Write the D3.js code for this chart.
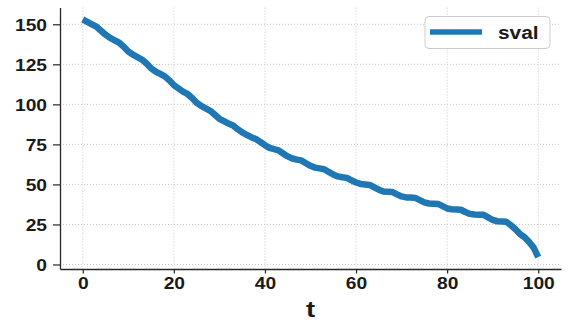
<!DOCTYPE html>
<html>
<head>
<meta charset="utf-8">
<script src="https://cdn.jsdelivr.net/npm/d3@7"></script>
<style>
  body { margin: 0; background: #fff; }
  text { font-family: "Liberation Sans", Arial, sans-serif; font-weight: bold; fill: #1a1a1a; }
</style>
</head>
<body>
<div id="chart"></div>
<script>
// values
var tVals = d3.range(0, 101);
var svalVals = [153, 151.5, 150, 148.5, 146, 143.5, 141.5, 140, 138.5, 136,
  133, 131, 129.5, 128, 125.5, 122.5, 120.5, 119, 117.5, 115,
  112, 110, 108, 106.5, 104, 101, 99, 97.5, 96, 93.5,
  91, 89.5, 88, 86.8, 84.5, 82.5, 81, 79.5, 78.3, 76.5,
  74.5, 72.8, 72, 71.3, 69.3, 67.5, 66.2, 65.5, 65, 63.2,
  61.6, 60.5, 60, 59.5, 57.8, 56.2, 55, 54.5, 54.1, 52.6,
  51.2, 50.3, 50, 49.7, 48.2, 46.7, 45.6, 45.4, 45.2, 43.8,
  42.5, 41.9, 41.8, 41.6, 40.2, 38.8, 38.1, 38, 37.8, 36.4,
  35, 34.5, 34.4, 34.2, 32.8, 31.6, 31.2, 31.1, 31, 29.4,
  27.8, 27, 26.9, 26.7, 24.5, 22, 19, 17, 14, 10.5,
  4.6];
var xTicks = [0, 20, 40, 60, 80, 100];
var yTicks = [0, 25, 50, 75, 100, 125, 150];
var seriesName = "sval";
var xTitle = "t";

var data = tVals.map(function(t, i) { return {t: t, v: svalVals[i]}; });

var svgWidth = 571;
var svgHeight = 331;

var svg = d3.select("#chart")
  .append("svg")
  .attr("width", svgWidth)
  .attr("height", svgHeight);

// matplotlib style 5% margins on both axes
var xLo = -5, xHi = 105;
var vMin = d3.min(svalVals), vMax = d3.max(svalVals);
var pad = (vMax - vMin) * 0.05;

var x = d3.scaleLinear().domain([xLo, xHi]).range([60, 561]);
var y = d3.scaleLinear().domain([vMin - pad, vMax + pad]).range([269, 7.6]);

// stretch text horizontally like the reference picture
function widen(sel, k) {
  sel.each(function() {
    var w = this.getComputedTextLength();
    d3.select(this).attr("textLength", w * k).attr("lengthAdjust", "spacingAndGlyphs");
  });
}

// grid
svg.append("g").selectAll("line")
  .data(xTicks)
  .enter()
  .append("line")
  .attr("x1", d => x(d)).attr("x2", d => x(d))
  .attr("y1", y.range()[1]).attr("y2", y.range()[0])
  .attr("stroke", "#c8c8c8").attr("stroke-width", 1)
  .attr("stroke-dasharray", "1,2");

svg.append("g").selectAll("line")
  .data(yTicks)
  .enter()
  .append("line")
  .attr("x1", x.range()[0]).attr("x2", x.range()[1])
  .attr("y1", d => y(d)).attr("y2", d => y(d))
  .attr("stroke", "#c8c8c8").attr("stroke-width", 1)
  .attr("stroke-dasharray", "1,2");

// axes (left and bottom spines only)
var bottomAxis = d3.axisBottom(x).tickValues(xTicks).tickSize(4.5).tickPadding(4).tickSizeOuter(0);
var leftAxis = d3.axisLeft(y).tickValues(yTicks).tickSize(7).tickPadding(6).tickSizeOuter(0);

var gx = svg.append("g")
  .attr("transform", "translate(0," + y.range()[0] + ")")
  .call(bottomAxis);
var gy = svg.append("g")
  .attr("transform", "translate(" + x.range()[0] + ",0)")
  .call(leftAxis);

[gx, gy].forEach(function(g) {
  g.select(".domain").attr("stroke", "#262626").attr("stroke-width", 1.3);
  g.selectAll(".tick line").attr("stroke", "#262626").attr("stroke-width", 1.2);
  g.selectAll(".tick text")
    .attr("font-size", "16px")
    .attr("font-family", "Liberation Sans, Arial, sans-serif")
    .attr("font-weight", "bold")
    .attr("fill", "#1a1a1a");
});
gy.selectAll(".tick text").attr("dy", "0.36em");
widen(gx.selectAll(".tick text"), 1.2);
widen(gy.selectAll(".tick text"), 1.2);

// axis title
svg.append("text")
  .attr("x", (x.range()[0] + x.range()[1]) / 2)
  .attr("y", 316.5)
  .attr("text-anchor", "middle")
  .attr("font-size", "22px")
  .text(xTitle)
  .call(widen, 1.25);

// the line
var line = d3.line()
  .x(d => x(d.t))
  .y(d => y(d.v));

svg.append("path")
  .datum(data)
  .attr("fill", "none")
  .attr("stroke", "#1f77b4")
  .attr("stroke-width", 6.5)
  .attr("stroke-linejoin", "round")
  .attr("d", line);

// legend
var legend = svg.append("g");
legend.append("rect")
  .attr("x", 425).attr("y", 16.5)
  .attr("width", 125).attr("height", 32)
  .attr("rx", 4)
  .attr("fill", "#fff").attr("fill-opacity", 0.85)
  .attr("stroke", "#cccccc").attr("stroke-width", 1);
legend.append("line")
  .attr("x1", 430).attr("x2", 482)
  .attr("y1", 32).attr("y2", 32)
  .attr("stroke", "#1f77b4").attr("stroke-width", 5.5);
legend.append("text")
  .attr("x", 498).attr("y", 38.5)
  .attr("font-size", "18px")
  .text(seriesName)
  .call(widen, 1.16);
</script>
</body>
</html>
